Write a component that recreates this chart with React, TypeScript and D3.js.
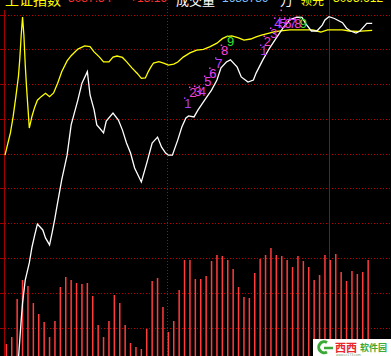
import React from "react";
import * as d3 from "d3";

const W = 391;
const H = 356;

// [minute since open, index value]
const indexLine: [number, number][] = [
  [10, 3001.4], [12, 3012.3], [13, 3017.2], [15, 3023.8], [18, 3028.7], [20, 3033.3],
  [22, 3036.7], [24, 3039.9], [28, 3038.2], [30, 3035.9], [33, 3033.9], [35, 3037.6],
  [37, 3041.6], [38, 3043.9], [42, 3052.6], [46, 3059.7], [49, 3068.4], [54, 3075.6],
  [57, 3080.4], [61, 3083.7], [63, 3077.0], [66, 3072.7], [68, 3068.4], [70, 3067.5],
  [73, 3066.1], [75, 3069.5], [80, 3071.8], [84, 3069.8], [87, 3066.9], [90, 3063.2],
  [93, 3060.3], [96, 3056.0], [101, 3052.0], [105, 3057.4], [109, 3063.2], [113, 3064.9],
  [116, 3062.0], [119, 3060.3], [121, 3059.7], [124, 3059.7], [128, 3064.1], [131, 3067.8],
  [134, 3070.4], [136, 3071.0], [140, 3070.7], [143, 3072.7], [148, 3075.6], [153, 3078.4],
  [157, 3081.3], [160, 3084.8], [164, 3086.5], [167, 3087.1], [172, 3085.0], [175, 3082.2],
  [178, 3081.3], [180, 3080.7], [184, 3081.3], [186, 3083.3], [191, 3087.1], [196, 3090.5],
  [201, 3093.4], [206, 3096.3], [211, 3098.6], [216, 3099.4], [220, 3099.3], [223, 3097.4],
  [227, 3095.4], [231, 3095.4], [235, 3097.1], [237, 3098.6], [240, 3099.5], [244, 3099.0],
  [250, 3097.8], [253, 3096.2], [256, 3095.4], [260, 3094.8], [263, 3095.4], [265, 3096.3],
  [268, 3097.6], [272, 3097.6],
];

// [minute since open, leading (unweighted) index]
const leadLine: [number, number][] = [
  [0, 3059.7], [4, 3066.1], [6, 3070.7], [8, 3076.4], [10, 3082.5], [11, 3087.6],
  [12, 3094.2], [13, 3099.4], [14, 3094.2], [15, 3085.6], [16, 3079.0], [17, 3073.3],
  [18, 3067.5], [20, 3070.9], [22, 3073.5], [24, 3075.5], [27, 3076.6], [30, 3077.5],
  [33, 3076.5], [36, 3077.6], [39, 3080.4], [42, 3083.7], [46, 3086.8], [49, 3088.3],
  [54, 3090.2], [59, 3091.1], [63, 3090.9], [66, 3089.4], [70, 3087.9], [73, 3086.5],
  [77, 3086.5], [80, 3087.9], [83, 3088.2], [87, 3087.8], [90, 3086.6], [94, 3084.8],
  [98, 3083.2], [101, 3081.8], [104, 3081.9], [106, 3083.6], [108, 3085.0], [110, 3086.2],
  [114, 3086.6], [118, 3086.1], [121, 3085.6], [125, 3085.9], [128, 3086.5], [132, 3087.9],
  [137, 3089.1], [142, 3089.9], [147, 3090.1], [152, 3090.9], [157, 3091.9], [161, 3093.2],
  [164, 3093.8], [168, 3094.0], [173, 3093.4], [177, 3092.8], [182, 3093.1], [186, 3093.7],
  [190, 3094.2], [195, 3094.7], [200, 3095.2], [206, 3095.5], [211, 3095.7], [228, 3095.7],
  [231, 3095.4], [234, 3095.1], [239, 3095.7], [250, 3095.7], [255, 3095.4], [261, 3095.3],
  [272, 3095.6],
];

// volume per 4-minute slot
const volumes = [
  1200, 1900, 5700, 7600, 7000, 5300, 4200, 3400, 1900, 3500,
  6900, 7900, 7600, 7300, 7200, 7300, 6000, 3100, 1900, 3500,
  6100, 5300, 3100, 1300, 900, 700, 2700, 7500, 7800, 4900,
  2400, 3500, 6600, 9600, 9600, 7700, 7700, 8000, 9500, 10100,
  10000, 9600, 8700, 6900, 5900, 5800, 8300, 9700, 10100, 10800,
  10100, 10000, 9600, 8900, 10000, 9500, 8900, 7600, 8100, 10100,
  9600, 10200, 8400, 7500, 8500, 8200, 8400, 9600,
];

const gridValues = [3010, 3020, 3030, 3040, 3050, 3060, 3070, 3080, 3090, 3100];

// sequential count markers: [minute, value, label]
const countMarks: [number, number, string][] = [
  [133.3, 3073.3, "1"], [137.0, 3076.4, "2"], [140.7, 3076.7, "3"], [144.1, 3076.7, "4"],
  [148.1, 3079.6, "5"], [151.9, 3081.9, "6"], [156.3, 3084.8, "7"], [160.5, 3088.5, "8"],
  [165.0, 3091.1, "9"],
  [189.6, 3088.5, "1"], [192.2, 3091.1, "2"], [197.0, 3093.4, "3"], [200.0, 3096.3, "4"],
  [203.7, 3096.3, "5"], [207.4, 3096.3, "6"], [211.1, 3096.3, "7"], [214.8, 3096.3, "8"],
  [218.9, 3096.3, "9"],
];
const extraDots: [number, number][] = [[204.4, 3101.4]];

const digitColors: Record<string, string> = {
  "1": "#a040ff", "2": "#ff40c8", "3": "#e040f0", "4": "#d040ff", "5": "#e040f0",
  "6": "#f040f0", "7": "#c040ff", "8": "#ff40d8", "9": "#33e833",
};

const headerTexts = [
  { text: "上证指数", color: "#ffff00", x: 5, y: 5, size: 14, cjk: true },
  { text: "3087.54", color: "#ff3030", x: 68, y: 2, size: 12, cjk: false },
  { text: "+13.16", color: "#ff3030", x: 130, y: 2, size: 12, cjk: false },
  { text: "成交量", color: "#ffffff", x: 176, y: 5, size: 13, cjk: true },
  { text: "1688789", color: "#80c0ff", x: 222, y: 2, size: 12, cjk: false },
  { text: "万", color: "#ffffff", x: 280, y: 5, size: 13, cjk: true },
  { text: "领先", color: "#ffff00", x: 300, y: 5, size: 12, cjk: true },
  { text: "3095.612", color: "#ffff00", x: 333, y: 2, size: 12, cjk: false },
];

export default function App() {
  const xs = d3.scaleLinear().domain([0, 240]).range([5, 329]);
  const ys = d3.scaleLinear().domain([3000, 3100]).range([362.8, 15]);
  const vs = d3.scaleLinear().domain([0, 12000]).range([H, 236]);
  const line = d3
    .line<[number, number]>()
    .x((d) => xs(d[0]))
    .y((d) => ys(d[1]));

  const gy = (v: number) => Math.floor(ys(v)) + 0.5;

  return (
    <svg
      width={W}
      height={H}
      style={{ position: "fixed", left: 0, top: 0, display: "block" }}
    >
      <rect x={0} y={0} width={W} height={H} fill="#000" />
      {/* horizontal grid */}
      {gridValues.map((g) => (
        <line
          key={g}
          x1={5}
          x2={W}
          y1={gy(g)}
          y2={gy(g)}
          stroke="#c00000"
          strokeDasharray="1 2"
        />
      ))}
      {/* left ticks */}
      {gridValues.map((g) => (
        <line key={"t" + g} x1={0} x2={4} y1={gy(g)} y2={gy(g)} stroke="#a00000" />
      ))}
      {/* midday dotted */}
      <line
        x1={Math.round(xs(120)) + 0.5}
        x2={Math.round(xs(120)) + 0.5}
        y1={3}
        y2={H}
        stroke="#c00000"
        strokeDasharray="1 2"
      />
      {/* day boundary */}
      <line
        x1={Math.round(xs(240)) + 0.5}
        x2={Math.round(xs(240)) + 0.5}
        y1={0}
        y2={H}
        stroke="#b00000"
      />
      {/* left axis */}
      <line x1={4.5} x2={4.5} y1={10} y2={H} stroke="#a00000" />

      {/* volume bars */}
      {volumes.map((v, i) => (
        <rect
          key={"v" + i}
          x={xs(i * 4) + 0.6}
          y={vs(v)}
          width={1.5}
          height={H - vs(v)}
          fill="#ff3c3c"
        />
      ))}

      {/* lines */}
      <path d={line(leadLine) || ""} fill="none" stroke="#ffff00" strokeWidth={1.3} />
      <path d={line(indexLine) || ""} fill="none" stroke="#ffffff" strokeWidth={1.3} />

      {/* count markers */}
      {countMarks.map(([m, v, t], i) => (
        <g key={"c" + i}>
          <rect x={xs(m) - 1} y={ys(v) - 10.5} width={1.5} height={1.5} fill={digitColors[t]} />
          <text
            x={xs(m) - 0.8}
            y={ys(v)}
            fill={digitColors[t]}
            fontSize={13}
            fontFamily="'Liberation Sans', Arial, sans-serif"
          >
            {t}
          </text>
        </g>
      ))}
      {extraDots.map(([m, v], i) => (
        <rect key={"d" + i} x={xs(m) - 0.5} y={ys(v) - 0.5} width={1.5} height={1.5} fill="#e040f0" />
      ))}

      {/* header (partly clipped at top) */}
      {headerTexts.map((h, i) => (
        <text
          key={"h" + i}
          x={h.x}
          y={h.y}
          fill={h.color}
          fontSize={h.size}
          fontFamily={h.cjk ? "'Noto Sans CJK SC', sans-serif" : "'Liberation Sans', Arial, sans-serif"}
        >
          {h.text}
        </text>
      ))}

      {/* watermark */}
      <g>
        <rect x={313} y={339} width={78} height={17} fill="#ffffff" />
        <path
          d="M 327 342.5 A 5.5 5.5 0 1 0 327 352"
          fill="none"
          stroke="#3aa935"
          strokeWidth={3}
        />
        <path d="M 324 348 L 333 348" stroke="#3aa935" strokeWidth={2.5} />
        <text x={335} y={352} fill="#e8262b" fontSize={11} fontWeight="bold" fontFamily="'Noto Sans CJK SC', sans-serif">
          西西
        </text>
        <text x={360} y={351} fill="#3aa935" fontSize={9} fontWeight="bold" fontFamily="'Noto Sans CJK SC', sans-serif">
          软件园
        </text>
        <text x={336} y={355.6} fill="#7a9a70" fontSize={3.5} fontFamily="'Liberation Sans', Arial, sans-serif">
          www.cr173.com
        </text>
      </g>
    </svg>
  );
}
